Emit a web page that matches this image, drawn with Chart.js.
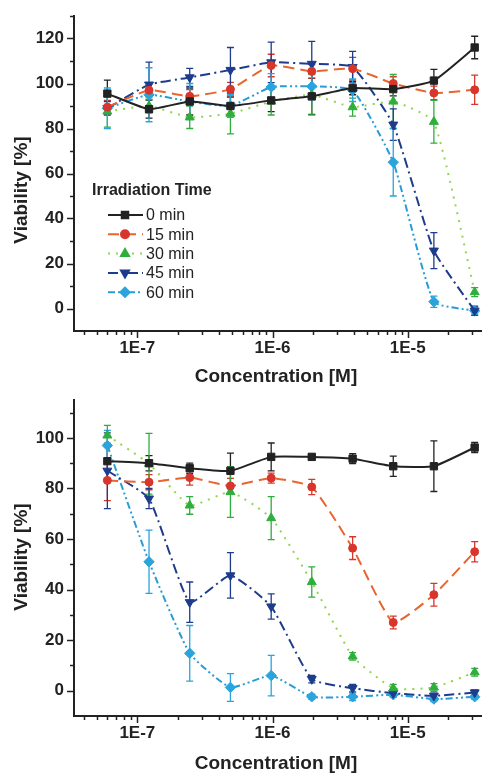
<!DOCTYPE html>
<html lang="en">
<head>
    <meta charset="UTF-8">
    <title>Viability vs Concentration</title>
    <script src="https://cdn.jsdelivr.net/npm/chart.js"></script>
    <style>
        body {
            margin: 0;
            background: #fff;
        }
        canvas {
            display: block;
        }
    </style>
</head>
<body>
    <canvas id="topChart" width="482" height="390"></canvas>
    <canvas id="bottomChart" width="482" height="383"></canvas>

    <script>
        // concentrations (M), serial 1:2 dilution
        const concentrations = [6.0e-8, 1.22e-7, 2.44e-7, 4.88e-7, 9.77e-7, 1.95e-6, 3.91e-6, 7.81e-6, 1.56e-5, 3.125e-5];
        const seriesLabels = ['0 min', '15 min', '30 min', '45 min', '60 min'];
        const xTickValues = [1e-7, 1e-6, 1e-5];
        const yTicksTop = [0, 20, 40, 60, 80, 100, 120];
        const yTicksBottom = [0, 20, 40, 60, 80, 100];

        // upper panel
        const top0 = [95.5, 88.6, 92, 90, 92.5, 94.3, 98, 97.5, 101.3, 116];
        const top0Err = [6, 4, 6, 4, 5, 8, 3, 3, 5, 5];
        const top15 = [89.5, 97, 94.3, 97.5, 108, 105.4, 106.6, 100, 95.8, 97.2];
        const top15Err = [3, 3, 3, 3, 5, 3, 5, 3, 3, 6.5];
        const top30 = [87.6, 90, 85, 86.6, 92, 95, 89.5, 92, 83, 7.3];
        const top30Err = [7, 3, 5, 9, 6, 9, 4, 12, 9.5, 2];
        const top45 = [89, 99.5, 102.7, 106, 109.4, 108.7, 107.3, 81.7, 25.7, -1];
        const top45Err = [3, 10, 4, 10, 9, 10, 7, 7, 8, 2];
        const top60 = [89, 95, 92, 90, 98.4, 98.7, 97, 65, 3, -1];
        const top60Err = [9, 12, 8, 5, 6, 6, 5, 15, 2.5, 1.5];

        // lower panel
        const bot0 = [90.8, 90, 88, 87, 92.5, 92.5, 91.8, 88.8, 88.8, 96.2];
        const bot0Err = [7, 3, 2, 7, 5.5, 1, 2, 4, 10, 2];
        const bot15 = [83.2, 82.5, 84.3, 81, 84.1, 80.6, 56.4, 27, 38, 55];
        const bot15Err = [8, 3, 3, 3, 2, 3, 4.5, 2.5, 4.5, 4];
        const bot30 = [101, 89.8, 73.3, 78.6, 68.3, 43, 13.6, 1, 1.3, 7.3];
        const bot30Err = [4, 12, 3.5, 10, 8.5, 6, 1.5, 1.5, 1.5, 1.5];
        const bot45 = [87, 76, 35, 45.6, 33.3, 4.6, 1, -1, -2, -0.7];
        const bot45Err = [15, 4, 8, 9, 5, 1.5, 1.5, 1, 1, 1];
        const bot60 = [97, 51, 14.8, 1.3, 6, -2.4, -2.4, -1.6, -3.3, -2.4];
        const bot60Err = [6, 12.5, 11, 5.5, 8, 1, 1.5, 1, 1, 1];

        const seriesStyles = [
            { line: '#222222', point: '#222222', dash: [], shape: 'rect', rot: 0 },
            { line: '#e8652f', point: '#d8362c', dash: [11, 6], shape: 'circle', rot: 0 },
            { line: '#8fd64a', point: '#2fae3c', dash: [2, 6], shape: 'triangle', rot: 0 },
            { line: '#1d3c8c', point: '#1d3c8c', dash: [10, 4, 2, 4], shape: 'triangle', rot: 180 },
            { line: '#2a9cd4', point: '#2aa4dc', dash: [7, 3, 2, 3, 2, 3], shape: 'rectRot', rot: 0 }
        ];

        const FONT = '"Liberation Sans", Arial, sans-serif';
        Chart.defaults.font.family = FONT;
        Chart.defaults.color = '#222';

        function makeDatasets(values, errors) {
            return values.map((vals, i) => {
                const st = seriesStyles[i];
                return {
                    label: seriesLabels[i],
                    data: vals.map((v, k) => ({ x: concentrations[k], y: v })),
                    errors: errors[i],
                    borderColor: st.line,
                    borderWidth: 2,
                    borderDash: st.dash,
                    backgroundColor: st.point,
                    pointBackgroundColor: st.point,
                    pointBorderColor: st.point,
                    pointStyle: st.shape,
                    pointRotation: st.rot,
                    pointRadius: st.shape === 'circle' ? 4 : 5.2,
                    pointBorderWidth: 1,
                    tension: 0.15,
                    clip: false
                };
            });
        }

        // error bars from the errors arrays
        const errorBars = {
            id: 'errorBars',
            beforeDatasetsDraw(chart) {
                const { ctx, scales: { x, y } } = chart;
                ctx.save();
                chart.data.datasets.forEach((ds, i) => {
                    ctx.strokeStyle = seriesStyles[i].point;
                    ctx.lineWidth = 1.3;
                    ds.data.forEach((p, k) => {
                        const e = ds.errors[k];
                        const px = x.getPixelForValue(p.x);
                        const y1 = y.getPixelForValue(p.y + e);
                        const y2 = y.getPixelForValue(p.y - e);
                        ctx.beginPath();
                        ctx.moveTo(px, y1); ctx.lineTo(px, y2);
                        ctx.moveTo(px - 3.5, y1); ctx.lineTo(px + 3.5, y1);
                        ctx.moveTo(px - 3.5, y2); ctx.lineTo(px + 3.5, y2);
                        ctx.stroke();
                    });
                });
                ctx.restore();
            }
        };

        // tick marks + axis titles
        const axisDeco = {
            id: 'axisDeco',
            afterDraw(chart, args, opts) {
                const { ctx, chartArea, scales: { x, y } } = chart;
                ctx.save();
                ctx.strokeStyle = '#222';
                ctx.lineWidth = 1.5;
                for (let d = -8; d <= -4; d++) {
                    for (let m = 1; m <= 9; m++) {
                        const v = m * Math.pow(10, d);
                        if (v < x.min || v > x.max) continue;
                        const px = Math.round(x.getPixelForValue(v)) + 0.5;
                        const len = m === 1 ? 7 : 4;
                        ctx.beginPath();
                        ctx.moveTo(px, chartArea.bottom);
                        ctx.lineTo(px, chartArea.bottom + len);
                        ctx.stroke();
                    }
                }
                for (let v = Math.ceil(y.min / 10) * 10; v <= y.max; v += 10) {
                    if (v === y.min) continue;
                    const py = Math.round(y.getPixelForValue(v)) + 0.5;
                    const len = (v % 20 === 0 && v >= 0) ? 7 : 4;
                    ctx.beginPath();
                    ctx.moveTo(chartArea.left, py);
                    ctx.lineTo(chartArea.left - len, py);
                    ctx.stroke();
                }
                ctx.fillStyle = '#222';
                ctx.font = 'bold 19px ' + FONT;
                ctx.textAlign = 'center';
                ctx.textBaseline = 'middle';
                ctx.fillText('Concentration [M]', opts.xTitleX, opts.xTitleY);
                ctx.translate(opts.yTitleX, opts.yTitleY);
                ctx.rotate(-Math.PI / 2);
                ctx.fillText('Viability [%]', 0, 0);
                ctx.restore();
            }
        };

        // legend inside upper plot
        const insideLegend = {
            id: 'insideLegend',
            afterDraw(chart, args, opts) {
                if (!opts.show) return;
                const { ctx } = chart;
                ctx.save();
                ctx.fillStyle = '#222';
                ctx.font = 'bold 16px ' + FONT;
                ctx.textAlign = 'left';
                ctx.textBaseline = 'middle';
                ctx.fillText('Irradiation Time', 92, 191);
                ctx.font = '16px ' + FONT;
                seriesLabels.forEach((lab, i) => {
                    const st = seriesStyles[i];
                    const yy = 215 + i * 19.3;
                    ctx.strokeStyle = st.line;
                    ctx.lineWidth = 2;
                    ctx.setLineDash(st.dash);
                    ctx.beginPath();
                    ctx.moveTo(108, yy); ctx.lineTo(143, yy);
                    ctx.stroke();
                    ctx.setLineDash([]);
                    ctx.fillStyle = st.point;
                    ctx.strokeStyle = st.point;
                    Chart.helpers.drawPoint(ctx, { pointStyle: st.shape, rotation: st.rot, radius: st.shape === 'circle' ? 4 : 4.6, borderWidth: 1 }, 125, yy);
                    ctx.fillStyle = '#222';
                    ctx.fillText(lab, 146, yy + 1);
                });
                ctx.restore();
            }
        };

        function makeChart(id, datasets, yMin, yMax, yTicks, axisOpts, legendShow, pad) {
            return new Chart(document.getElementById(id), {
                type: 'line',
                data: { datasets: datasets },
                plugins: [errorBars, axisDeco, insideLegend],
                options: {
                    responsive: false,
                    animation: false,
                    devicePixelRatio: 1,
                    layout: { autoPadding: false, padding: { top: pad.top, right: 0, left: 0, bottom: 0 } },
                    plugins: {
                        legend: { display: false },
                        tooltip: { enabled: false },
                        axisDeco: axisOpts,
                        insideLegend: { show: legendShow }
                    },
                    scales: {
                        x: {
                            type: 'logarithmic',
                            bounds: 'data',
                            min: 3.40e-8,
                            max: 3.54e-5,
                            border: { display: true, width: 2, color: '#222' },
                            grid: { display: false, drawTicks: false },
                            afterBuildTicks: s => { s.ticks = xTickValues.map(v => ({ value: v })); },
                            afterFit: s => { s.height = pad.xh; s.paddingLeft = 0; s.paddingRight = 0; },
                            ticks: {
                                autoSkip: false,
                                maxRotation: 0,
                                padding: 7,
                                color: '#222',
                                font: { size: 17, weight: 'bold' },
                                callback: v => '1E' + Math.round(Math.log10(v))
                            }
                        },
                        y: {
                            min: yMin,
                            max: yMax,
                            border: { display: true, width: 2, color: '#222' },
                            grid: { display: false, drawTicks: false },
                            afterBuildTicks: s => { s.ticks = yTicks.map(v => ({ value: v })); },
                            afterFit: s => { s.width = 74; s.paddingTop = 0; s.paddingBottom = 0; },
                            ticks: {
                                padding: 10,
                                color: '#222',
                                font: { size: 17, weight: 'bold' }
                            }
                        }
                    }
                }
            });
        }

        makeChart('topChart',
            makeDatasets([top0, top15, top30, top45, top60], [top0Err, top15Err, top30Err, top45Err, top60Err]),
            -10, 130, yTicksTop,
            { xTitleX: 276, xTitleY: 377, yTitleX: 22, yTitleY: 190 },
            true, { top: 16, xh: 59 });

        makeChart('bottomChart',
            makeDatasets([bot0, bot15, bot30, bot45, bot60], [bot0Err, bot15Err, bot30Err, bot45Err, bot60Err]),
            -10, 115, yTicksBottom,
            { xTitleX: 276, xTitleY: 374, yTitleX: 22, yTitleY: 167 },
            false, { top: 10, xh: 57 });
    </script>
</body>
</html>
